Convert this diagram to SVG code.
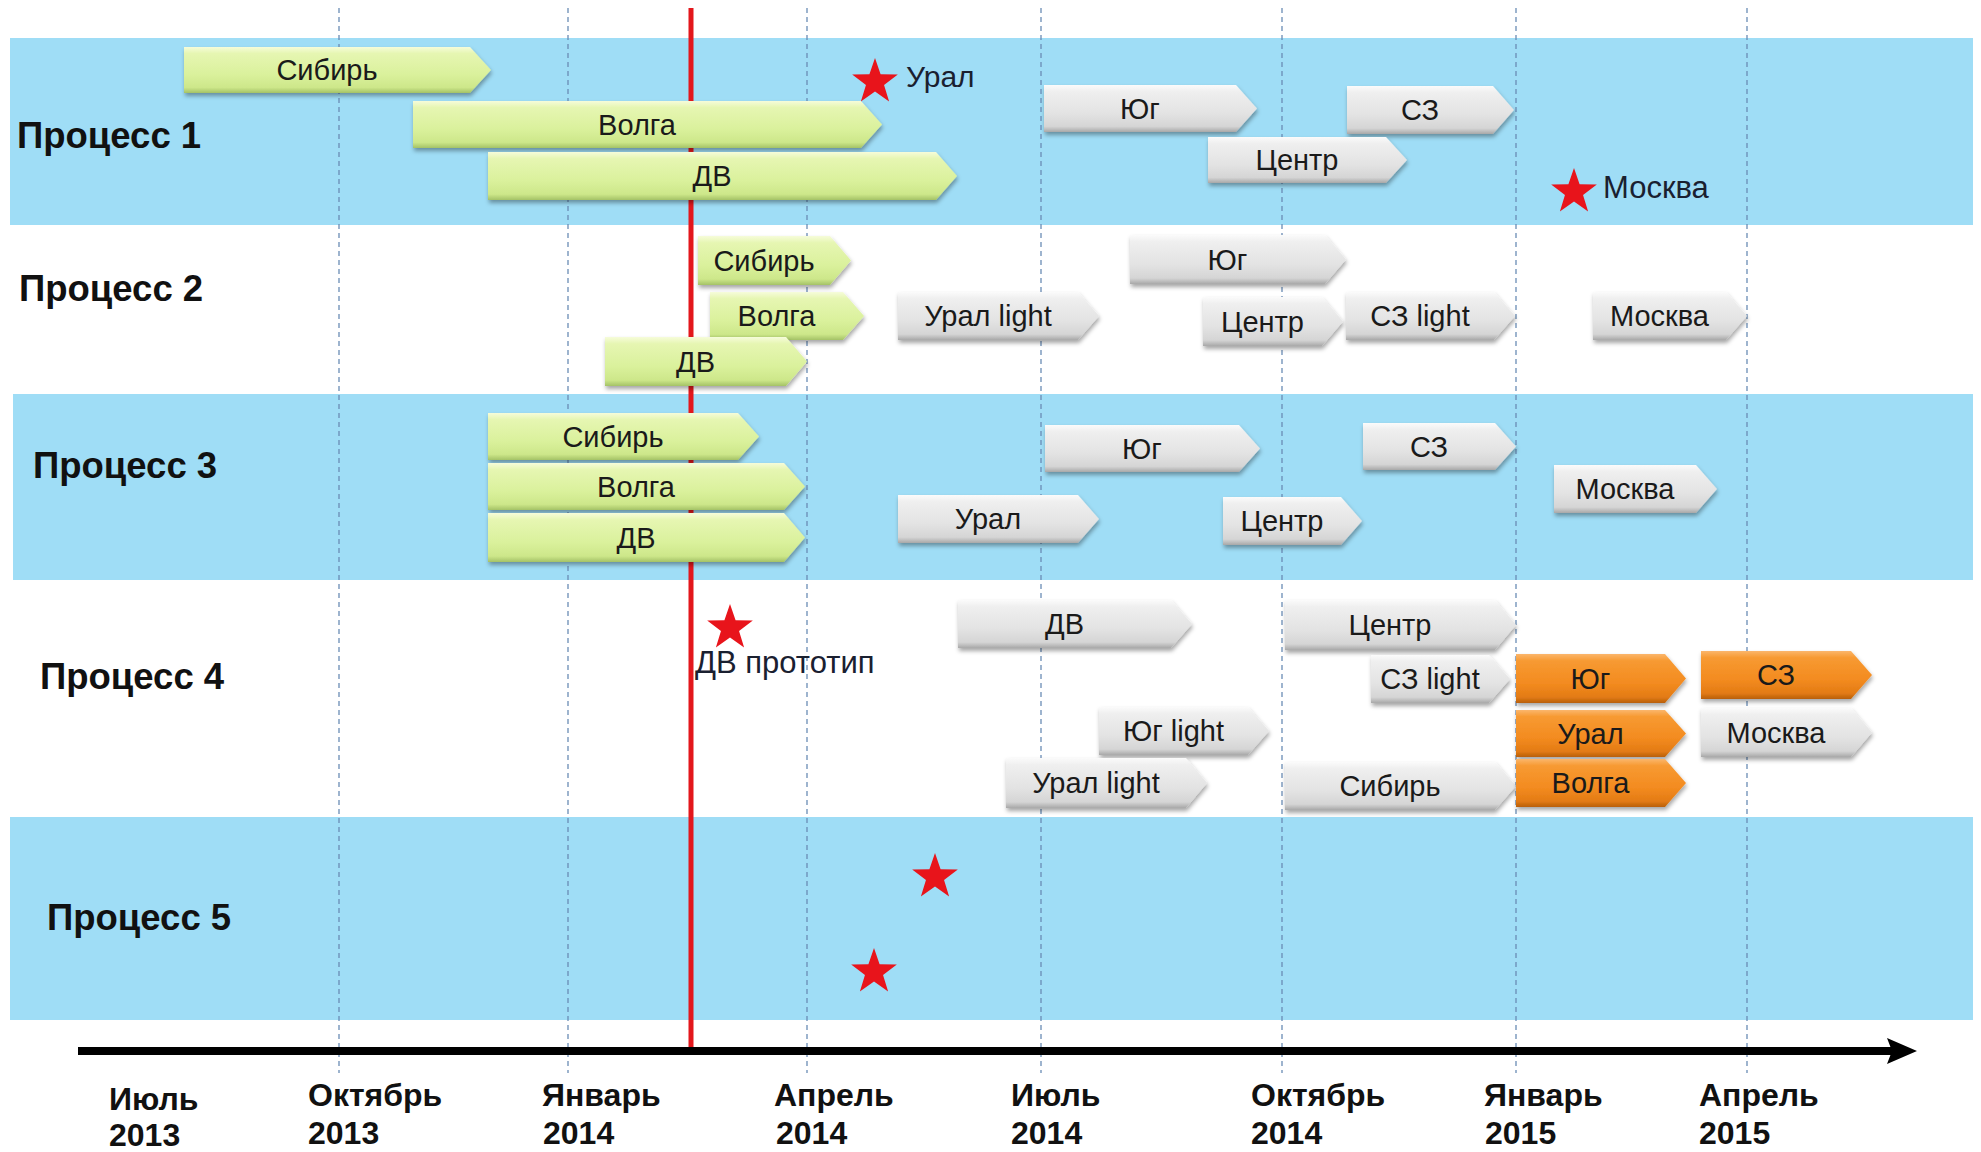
<svg xmlns="http://www.w3.org/2000/svg" xmlns:xlink="http://www.w3.org/1999/xlink" width="1981" height="1152" viewBox="0 0 1981 1152">
<defs>
<style>
.band{fill:#9FDDF6}
.grid{stroke:#6A8DB5;stroke-width:1.3;stroke-dasharray:5 4;fill:none}
.proc{font-family:"Liberation Sans",Arial,sans-serif;font-weight:bold;font-size:36.5px;fill:#111}
.axl{font-family:"Liberation Sans",Arial,sans-serif;font-weight:bold;font-size:32px;fill:#111}
.lbl{font-family:"Liberation Sans",Arial,sans-serif;font-size:29px;fill:#1a1a1a;text-anchor:middle}
.note{font-family:"Liberation Sans",Arial,sans-serif;font-size:30px;fill:#1a2030}
.green path{fill:url(#gGreen);filter:url(#sh)}
.grey path{fill:url(#gGrey);filter:url(#sh)}
.orange path{fill:url(#gOrange);filter:url(#sh)}
.star{fill:#E8141B}
</style>
<linearGradient id="gGreen" x1="0" y1="0" x2="0" y2="1">
<stop offset="0" stop-color="#F6FCDA"/><stop offset="0.14" stop-color="#E6F6B2"/><stop offset="0.6" stop-color="#DAF19C"/><stop offset="0.88" stop-color="#CDE78A"/><stop offset="1" stop-color="#A4C266"/>
</linearGradient>
<linearGradient id="gGrey" x1="0" y1="0" x2="0" y2="1">
<stop offset="0" stop-color="#FBFBFB"/><stop offset="0.14" stop-color="#EFEFEF"/><stop offset="0.6" stop-color="#E3E3E3"/><stop offset="0.88" stop-color="#D5D5D5"/><stop offset="1" stop-color="#A8A8A8"/>
</linearGradient>
<linearGradient id="gOrange" x1="0" y1="0" x2="0" y2="1">
<stop offset="0" stop-color="#FBB66C"/><stop offset="0.14" stop-color="#F79A32"/><stop offset="0.6" stop-color="#F38B20"/><stop offset="0.88" stop-color="#E37B14"/><stop offset="1" stop-color="#B85F0C"/>
</linearGradient>
<filter id="sh" x="-10%" y="-20%" width="120%" height="150%">
<feDropShadow dx="1" dy="3" stdDeviation="2" flood-color="#000" flood-opacity="0.35"/>
</filter>
<polygon id="starShape" points="0,-24 5.58,-7.69 22.83,-7.42 9.04,2.94 14.11,19.42 0,9.5 -14.11,19.42 -9.04,2.94 -22.83,-7.42 -5.58,-7.69"/>
</defs>
<rect x="0" y="0" width="1981" height="1152" fill="#FFFFFF"/>
<g id="bands">
<rect class="band" x="10" y="38" width="1963" height="187"/>
<rect class="band" x="13" y="394" width="1960" height="186"/>
<rect class="band" x="10" y="817" width="1963" height="203"/>
</g>
<g id="grid">
<line class="grid" x1="339" y1="8" x2="339" y2="1073"/>
<line class="grid" x1="568" y1="8" x2="568" y2="1073"/>
<line class="grid" x1="807" y1="8" x2="807" y2="1073"/>
<line class="grid" x1="1041" y1="8" x2="1041" y2="1073"/>
<line class="grid" x1="1282" y1="8" x2="1282" y2="1073"/>
<line class="grid" x1="1516" y1="8" x2="1516" y2="1073"/>
<line class="grid" x1="1747" y1="8" x2="1747" y2="1073"/>
</g>
<g id="connectors">
<line id="today-line" x1="691" y1="8" x2="691" y2="1053" stroke="#E3171C" stroke-width="5"/>
<g id="time-axis">
<line x1="78" y1="1051" x2="1892" y2="1051" stroke="#000" stroke-width="8"/>
<polygon points="1917,1051 1887,1038 1892,1051 1887,1064" fill="#000"/>
</g>
</g>
<g id="process-labels">
<text class="proc" x="17" y="148">Процесс 1</text>
<text class="proc" x="19" y="301">Процесс 2</text>
<text class="proc" x="33" y="478">Процесс 3</text>
<text class="proc" x="40" y="689">Процесс 4</text>
<text class="proc" x="47" y="930">Процесс 5</text>
</g>
<g id="axis-labels">
<text class="axl" x="109" y="1110">Июль</text><text class="axl" x="109" y="1146">2013</text>
<text class="axl" x="308" y="1106">Октябрь</text><text class="axl" x="308" y="1144">2013</text>
<text class="axl" x="542" y="1106">Январь</text><text class="axl" x="543" y="1144">2014</text>
<text class="axl" x="774" y="1106">Апрель</text><text class="axl" x="776" y="1144">2014</text>
<text class="axl" x="1011" y="1106">Июль</text><text class="axl" x="1011" y="1144">2014</text>
<text class="axl" x="1251" y="1106">Октябрь</text><text class="axl" x="1251" y="1144">2014</text>
<text class="axl" x="1484" y="1106">Январь</text><text class="axl" x="1485" y="1144">2015</text>
<text class="axl" x="1699" y="1106">Апрель</text><text class="axl" x="1699" y="1144">2015</text>
</g>
<g id="p1-sibir" class="green"><path d="M184,47 H470 L491,70 L470,93 H184 Z"/><text class="lbl" x="327" y="80">Сибирь</text></g>
<g id="p1-volga" class="green"><path d="M413,101 H861 L882,124.5 L861,148 H413 Z"/><text class="lbl" x="637" y="134.5">Волга</text></g>
<g id="p1-dv" class="green"><path d="M488,152 H936 L957,176 L936,200 H488 Z"/><text class="lbl" x="712" y="186">ДВ</text></g>
<g id="p1-yug" class="grey"><path d="M1044,85 H1236 L1257,108.5 L1236,132 H1044 Z"/><text class="lbl" x="1140" y="118.5">Юг</text></g>
<g id="p1-sz" class="grey"><path d="M1347,86 H1493 L1514,110 L1493,134 H1347 Z"/><text class="lbl" x="1420" y="120">СЗ</text></g>
<g id="p1-centr" class="grey"><path d="M1208,137 H1386 L1407,160 L1386,183 H1208 Z"/><text class="lbl" x="1297" y="170">Центр</text></g>
<g id="p1-ural-milestone"><use xlink:href="#starShape" href="#starShape" class="star" x="875" y="82"/><text class="note" x="906" y="87">Урал</text></g>
<g id="p1-moskva-milestone"><use xlink:href="#starShape" href="#starShape" class="star" x="1574" y="192"/><text class="note" x="1603" y="198" style="font-size:31px">Москва</text></g>
<g id="p2-sibir" class="green"><path d="M698,236 H830 L851,260.5 L830,285 H698 Z"/><text class="lbl" x="764" y="270.5">Сибирь</text></g>
<g id="p2-volga" class="green"><path d="M710,292 H843 L864,316 L843,340 H710 Z"/><text class="lbl" x="776.5" y="326">Волга</text></g>
<g id="p2-dv" class="green"><path d="M605,337 H786 L807,361.5 L786,386 H605 Z"/><text class="lbl" x="695.5" y="371.5">ДВ</text></g>
<g id="p2-ural-light" class="grey"><path d="M898,292 H1078 L1099,316 L1078,340 H898 Z"/><text class="lbl" x="988" y="326">Урал light</text></g>
<g id="p2-yug" class="grey"><path d="M1130,235 H1325 L1346,259.5 L1325,284 H1130 Z"/><text class="lbl" x="1227.5" y="269.5">Юг</text></g>
<g id="p2-centr" class="grey"><path d="M1203,297 H1322 L1343,321.5 L1322,346 H1203 Z"/><text class="lbl" x="1262.5" y="331.5">Центр</text></g>
<g id="p2-sz-light" class="grey"><path d="M1346,292 H1494 L1515,316 L1494,340 H1346 Z"/><text class="lbl" x="1420" y="326">СЗ light</text></g>
<g id="p2-moskva" class="grey"><path d="M1593,292 H1726 L1747,316 L1726,340 H1593 Z"/><text class="lbl" x="1659.5" y="326">Москва</text></g>
<g id="p3-sibir" class="green"><path d="M488,413 H738 L759,436.5 L738,460 H488 Z"/><text class="lbl" x="613" y="446.5">Сибирь</text></g>
<g id="p3-volga" class="green"><path d="M488,463 H784 L805,486.5 L784,510 H488 Z"/><text class="lbl" x="636" y="496.5">Волга</text></g>
<g id="p3-dv" class="green"><path d="M488,513 H784 L805,537.5 L784,562 H488 Z"/><text class="lbl" x="636" y="547.5">ДВ</text></g>
<g id="p3-ural" class="grey"><path d="M898,495 H1078 L1099,519 L1078,543 H898 Z"/><text class="lbl" x="988" y="529">Урал</text></g>
<g id="p3-yug" class="grey"><path d="M1045,425 H1239 L1260,448.5 L1239,472 H1045 Z"/><text class="lbl" x="1142" y="458.5">Юг</text></g>
<g id="p3-sz" class="grey"><path d="M1363,423 H1495 L1516,446.5 L1495,470 H1363 Z"/><text class="lbl" x="1429" y="456.5">СЗ</text></g>
<g id="p3-moskva" class="grey"><path d="M1554,465 H1696 L1717,489 L1696,513 H1554 Z"/><text class="lbl" x="1625" y="499">Москва</text></g>
<g id="p3-centr" class="grey"><path d="M1223,497 H1341 L1362,521 L1341,545 H1223 Z"/><text class="lbl" x="1282" y="531">Центр</text></g>
<g id="p4-dv-prototype"><use xlink:href="#starShape" href="#starShape" class="star" x="730" y="628"/><text class="note" x="695" y="673" style="font-size:31px">ДВ прототип</text></g>
<g id="p4-dv" class="grey"><path d="M958,600 H1171 L1192,624 L1171,648 H958 Z"/><text class="lbl" x="1064.5" y="634">ДВ</text></g>
<g id="p4-centr" class="grey"><path d="M1285,600 H1495 L1516,625 L1495,650 H1285 Z"/><text class="lbl" x="1390" y="635">Центр</text></g>
<g id="p4-sz-light" class="grey"><path d="M1371,655 H1489 L1510,679 L1489,703 H1371 Z"/><text class="lbl" x="1430" y="689">СЗ light</text></g>
<g id="p4-yug" class="orange"><path d="M1516,654 H1665 L1686,678.5 L1665,703 H1516 Z"/><text class="lbl" x="1590.5" y="688.5">Юг</text></g>
<g id="p4-sz" class="orange"><path d="M1701,651 H1851 L1872,675 L1851,699 H1701 Z"/><text class="lbl" x="1776" y="685">СЗ</text></g>
<g id="p4-yug-light" class="grey"><path d="M1099,707 H1248 L1269,731 L1248,755 H1099 Z"/><text class="lbl" x="1173.5" y="741">Юг light</text></g>
<g id="p4-ural" class="orange"><path d="M1516,710 H1665 L1686,733.5 L1665,757 H1516 Z"/><text class="lbl" x="1590.5" y="743.5">Урал</text></g>
<g id="p4-moskva" class="grey"><path d="M1701,708 H1851 L1872,732.5 L1851,757 H1701 Z"/><text class="lbl" x="1776" y="742.5">Москва</text></g>
<g id="p4-ural-light" class="grey"><path d="M1006,758 H1186 L1207,783 L1186,808 H1006 Z"/><text class="lbl" x="1096" y="793">Урал light</text></g>
<g id="p4-sibir" class="grey"><path d="M1285,762 H1495 L1516,786 L1495,810 H1285 Z"/><text class="lbl" x="1390" y="796">Сибирь</text></g>
<g id="p4-volga" class="orange"><path d="M1516,759 H1665 L1686,783 L1665,807 H1516 Z"/><text class="lbl" x="1590.5" y="793">Волга</text></g>
<g id="p5-milestone-1"><use xlink:href="#starShape" href="#starShape" class="star" x="935" y="877"/></g>
<g id="p5-milestone-2"><use xlink:href="#starShape" href="#starShape" class="star" x="874" y="972"/></g>
</svg>
